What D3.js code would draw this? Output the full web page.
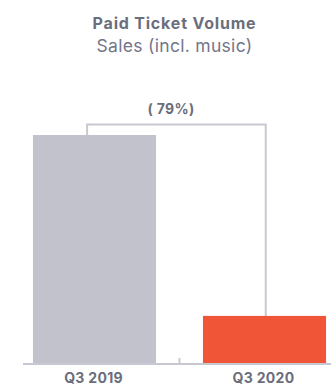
<!DOCTYPE html>
<html>
  <head>
    <meta charset="utf-8">
    <title>Paid Ticket Volume</title>
    <style media="screen">
    body{margin: 0; background: #fff}
    text{font-family: Inter, "Open Sans", sans-serif}
    </style>
  </head>
  <body>
    <script src="https://d3js.org/d3.v7.min.js"></script>
    <script type="text/javascript">
      var w = 331, h = 386;

      var categories = ['Q3 2019', 'Q3 2020'];
      var values = [100, 21];
      var colors = ['#c2c2cc', '#f05537'];
      var changeLabel = '( 79%)';

      var svg = d3.select('body').append('svg')
        .attr('width', w)
        .attr('height', h)

      var x = d3.scaleBand()
        .domain(categories)
        .range([9.5, 349.5])
        .paddingInner(0.276)
        .paddingOuter(0.138)

      var y = d3.scaleLinear()
        .domain([0, 100])
        .range([364, 135])

      // titles
      svg.append('text')
        .attr('x', 174.5).attr('y', 29)
        .attr('text-anchor', 'middle')
        .attr('font-size', 16).attr('font-weight', 700)
        .attr('letter-spacing', 0.8)
        .attr('fill', '#6b6e7c')
        .text('Paid Ticket Volume')

      svg.append('text')
        .attr('x', 174.5).attr('y', 52)
        .attr('text-anchor', 'middle')
        .attr('font-size', 17.5)
        .attr('letter-spacing', 0.3)
        .attr('fill', '#72768a')
        .text('Sales (incl. music)')

      // bracket between the bars
      var xl = x(categories[0]) + x.bandwidth() * 0.44,
          xr = x(categories[1]) + x.bandwidth() * 0.51,
          yt = 124.5;
      svg.append('path')
        .attr('d', 'M' + xl + ',' + y(values[0]) + 'V' + yt + 'H' + xr + 'V' + y(values[1]))
        .attr('fill', 'none')
        .attr('stroke', '#c8c8d2')
        .attr('stroke-width', 2)

      svg.append('text')
        .attr('x', 171).attr('y', 114)
        .attr('text-anchor', 'middle')
        .attr('font-size', 14).attr('font-weight', 700)
        .attr('letter-spacing', 0.3)
        .attr('fill', '#6b6e7c')
        .text(changeLabel)

      // bars
      svg.selectAll('rect.bar')
        .data(values)
        .enter()
          .append('rect')
          .attr('class', 'bar')
          .attr('x', function(d, i){ return x(categories[i]) })
          .attr('y', function(d){ return y(d) })
          .attr('width', x.bandwidth())
          .attr('height', function(d){ return y(0) - y(d) })
          .attr('fill', function(d, i){ return colors[i] })

      // axis
      var xAxis = d3.axisBottom(x).tickSize(0).tickPadding(9)
      var g = svg.append('g')
        .attr('transform', 'translate(0,' + y(0) + ')')
        .call(xAxis)
      g.select('.domain').remove()
      g.selectAll('text')
        .attr('font-size', 14).attr('font-weight', 700)
        .attr('letter-spacing', 0.3)
        .attr('fill', '#6b6e7c')
        .attr('font-family', 'Inter, sans-serif')
      g.selectAll('.tick').attr('transform', function(d){
        return 'translate(' + (x(d) + x.bandwidth() / 2 - 1) + ',0)'
      })

      svg.append('line')
        .attr('x1', 23).attr('x2', w)
        .attr('y1', y(0)).attr('y2', y(0))
        .attr('stroke', '#c8c8d2').attr('stroke-width', 2)

      var mid = (x(categories[0]) + x.bandwidth() + x(categories[1])) / 2
      svg.append('line')
        .attr('x1', mid).attr('x2', mid)
        .attr('y1', y(0) - 6).attr('y2', y(0))
        .attr('stroke', '#c8c8d2').attr('stroke-width', 2)

    </script>

  </body>
</html>
